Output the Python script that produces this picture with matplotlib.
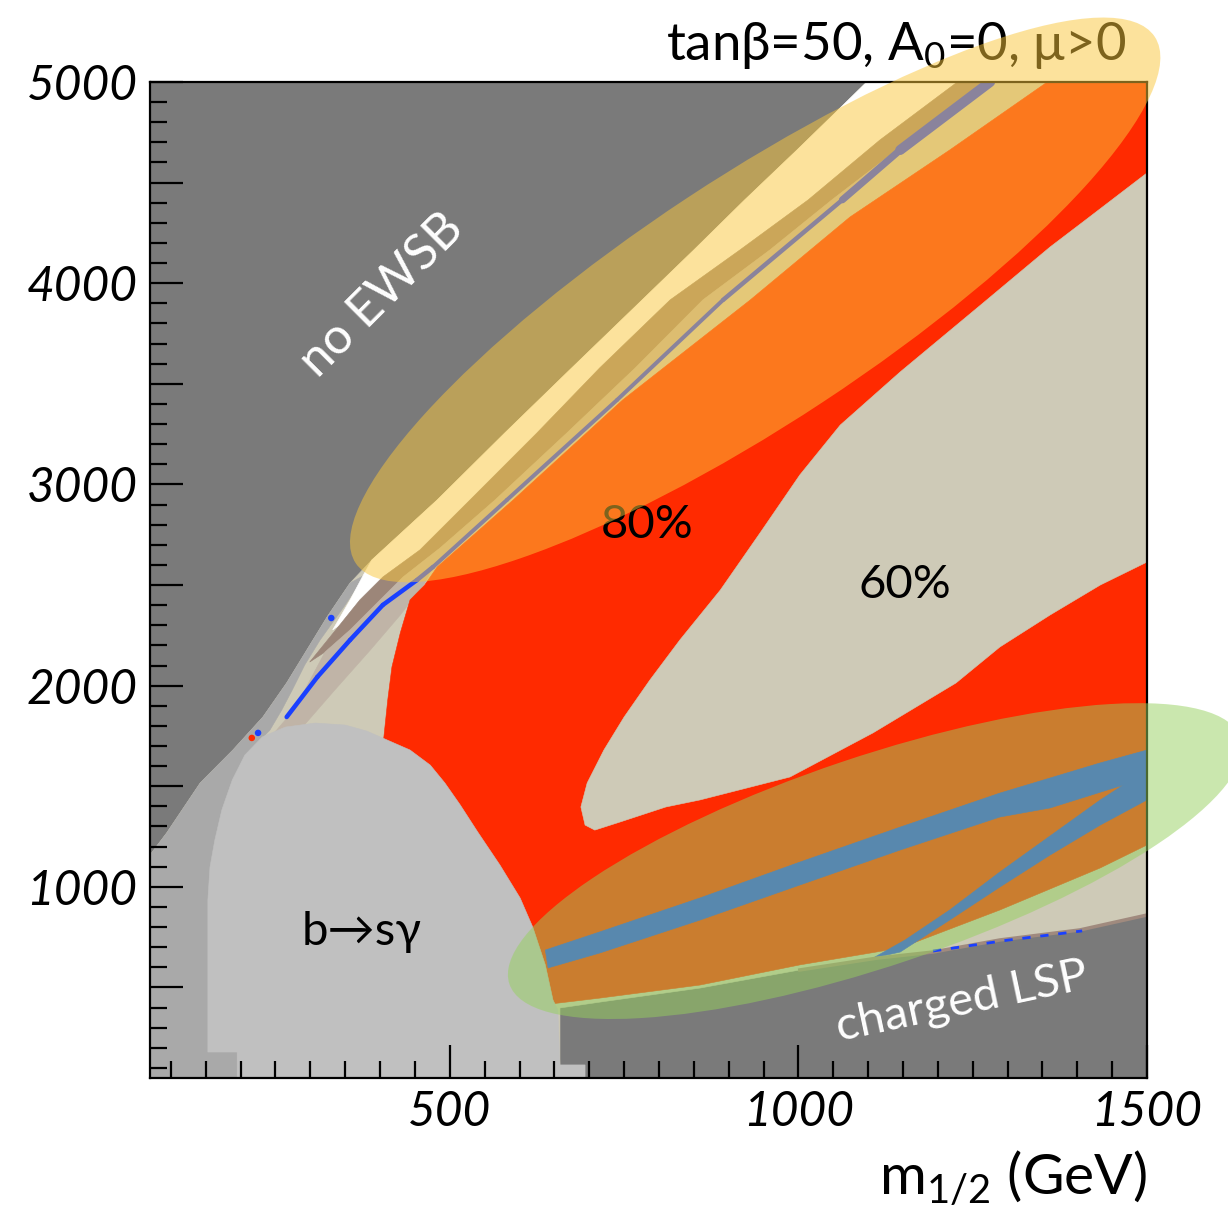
import matplotlib
matplotlib.use("Agg")
import matplotlib.pyplot as plt
from matplotlib.patches import Ellipse
from matplotlib.collections import LineCollection
from matplotlib.ticker import MultipleLocator

plt.rcParams['font.family'] = ['Lato', 'DejaVu Sans']
plt.rcParams['mathtext.fontset'] = 'custom'
plt.rcParams['mathtext.rm'] = 'Lato'

# --- region outlines, (m_1/2, m_0) in GeV ---
ewsb_x = [70, 94, 142, 189, 232, 266, 295, 324, 357, 388, 482, 579, 672, 776, 850, 923, 998, 1057, 1098]
ewsb_y = [1158, 1268, 1516, 1680, 1844, 2013, 2177, 2341, 2510, 2624, 2923, 3256, 3569, 3917, 4165, 4414, 4662, 4861, 5000]

lsp_x = [1500, 1404, 1289, 1193, 1113, 1002, 859, 715, 658]
lsp_y = [860, 786, 736, 676, 646, 587, 497, 427, 398]

midgray_x = [378, 350, 314, 292, 274, 259, 242, 221, 199, 185, 173, 159, 153, 153, 195, 195]
midgray_y = [2550, 2401, 2227, 2103, 1978, 1879, 1779, 1705, 1581, 1432, 1268, 1133, 935, 179, 179, 50]

white_x = [1098, 1057, 998, 923, 850, 776, 672, 579, 482, 388, 376, 357, 332,
           342, 371, 404, 457, 529, 625, 715, 816, 916, 1014, 1117, 1228]
white_y = [5000, 4861, 4662, 4414, 4165, 3917, 3569, 3256, 2923, 2624, 2550, 2426, 2277,
           2301, 2426, 2540, 2674, 2923, 3256, 3579, 3917, 4165, 4414, 4712, 5000]

brown_x = [1228, 1117, 1014, 916, 816, 715, 625, 529, 457, 404, 371, 342, 299,
           321, 357, 400, 433, 486, 565, 668, 766, 863, 959, 1048, 1160, 1265]
brown_y = [5000, 4712, 4414, 4165, 3917, 3579, 3256, 2923, 2674, 2540, 2426, 2301, 2117,
           2167, 2277, 2426, 2540, 2684, 2923, 3256, 3579, 3917, 4165, 4414, 4712, 5000]

taupe_x = [1265, 1160, 1048, 959, 863, 766, 668, 565, 486, 433, 400, 357, 321,
           292, 264, 242, 285, 335, 386, 429, 464, 476, 582, 740, 892, 1063, 1146, 1275]
taupe_y = [5000, 4712, 4414, 4165, 3917, 3579, 3256, 2923, 2684, 2540, 2426, 2277, 2167,
           1978, 1829, 1740, 1779, 1978, 2177, 2351, 2510, 2590, 2923, 3420, 3917, 4414, 4662, 5000]

coann_x = [1275, 1146, 1063, 892, 740, 582, 476, 453, 404, 357, 310, 266]
coann_y = [5000, 4662, 4414, 3917, 3420, 2923, 2590, 2525, 2401, 2227, 2043, 1844]
coann_w = [10, 7, 4.5, 4, 4, 4, 4.5, 4.5, 4.5, 4.5, 4.5]

red_x = [1357, 1217, 1074, 931, 748, 591, 482, 464, 443, 429, 417, 411, 405,
         467, 488, 510, 535, 567, 596, 614, 632, 643, 650,
         715, 859, 1002, 1146, 1289, 1433, 1500, 1500]
red_y = [5000, 4662, 4329, 3917, 3420, 2923, 2590, 2500, 2426, 2262, 2093, 1929, 1730,
         1605, 1516, 1407, 1273, 1108, 944, 800, 612, 438, 420,
         447, 512, 612, 696, 885, 1094, 1208, 5000]

tongue_x = [1500, 1408, 1361, 1265, 1146, 1060, 1002, 945, 888, 830, 787, 750, 721, 697, 688, 694, 708,
            744, 810, 859, 988, 1107, 1226, 1289, 1361, 1433, 1500]
tongue_y = [4548, 4304, 4180, 3902, 3559, 3295, 3047, 2759, 2475, 2227, 2028, 1844, 1680, 1516, 1397, 1307, 1282,
            1322, 1397, 1432, 1546, 1765, 2013, 2192, 2351, 2500, 2614]

band_x = [637, 715, 859, 1002, 1146, 1289, 1433, 1500,
          1500, 1433, 1361, 1289, 1217, 1146, 1107,
          1153, 1217, 1289, 1361, 1433, 1466,
          1361, 1289, 1146, 1002, 859, 715, 641]
band_y = [686, 776, 945, 1123, 1297, 1466, 1616, 1680,
          1432, 1307, 1158, 999, 835, 676, 646,
          736, 885, 1074, 1253, 1432, 1506,
          1392, 1347, 1183, 1009, 835, 671, 597]

bsg_x = [195, 195, 153, 153, 156, 163, 173, 188, 206, 231, 264, 307, 350, 381, 410,
         443, 472, 493, 515, 540, 572, 601, 619, 637, 648, 655, 658, 694, 694]
bsg_y = [50, 179, 179, 935, 1098, 1233, 1382, 1531, 1655, 1745, 1794, 1814, 1804, 1774, 1730,
         1680, 1605, 1516, 1407, 1273, 1108, 944, 800, 612, 438, 388, 115, 115, 50]

dash_x = [1193, 1300, 1407]
dash_y = [681, 735, 781]

dots_x = [225, 216, 330]
dots_y = [1765, 1740, 2336]
dots_c = ['#1a40ff', '#ff2a00', '#1a40ff']

# highlight ellipses: centre (GeV), width/height as axes fraction, angle (deg)
yellow_ell = (938, 3917, 0.960, 0.246, 33.4)
green_ell = (1110, 1128, 0.774, 0.210, 18.6)

xtick_vals = [500, 1000, 1500]
xtick_labels = ['500', '1000', '1500']
ytick_vals = [500, 1000, 1500, 2000, 2500, 3000, 3500, 4000, 4500, 5000]
ytick_labels = ['', '1000', '', '2000', '', '3000', '', '4000', '', '5000']

fig = plt.figure(figsize=(12.28, 12.07), dpi=100)
ax = fig.add_axes([0.12215, 0.10688, 0.8119, 0.8252])
ax.set_xlim(70, 1500)
ax.set_ylim(50, 5000)
ax.set_facecolor('#7a7a7a')


def region(xs, ys, col):
    ax.fill(xs, ys, facecolor=col, edgecolor=col, lw=0.4, zorder=1)


allowed_x = ewsb_x + [1500] + lsp_x + [658, 70]
allowed_y = ewsb_y + [5000] + lsp_y + [50, 50]
region(allowed_x, allowed_y, '#cecab7')
region([70] + ewsb_x[:9] + midgray_x, [50] + ewsb_y[:9] + midgray_y, '#a9a9a9')
region(white_x, white_y, '#ffffff')
region(brown_x, brown_y, '#9c8679')
region(taupe_x, taupe_y, '#c0b4a7')
region(red_x, red_y, '#ff2a00')
region(tongue_x, tongue_y, '#cecab7')
region(band_x, band_y, '#1a40ff')
region(bsg_x, bsg_y, '#c0c0c0')

segs = [[(coann_x[i], coann_y[i]), (coann_x[i + 1], coann_y[i + 1])] for i in range(len(coann_x) - 1)]
ax.add_collection(LineCollection(segs, colors='#1a40ff', linewidths=[w * 0.72 for w in coann_w],
                                 capstyle='round', zorder=1.5))
ax.plot(lsp_x[:6], lsp_y[:6], color='#a08a7e', lw=2.5, zorder=1.4)
ax.plot(dash_x, dash_y, color='#1a40ff', lw=2, ls=(0, (3, 3.5)), zorder=1.6)
ax.scatter(dots_x, dots_y, s=22, c=dots_c, lw=0, zorder=1.6)

# labels inside the plane
ax.text(783, 2798, '80%', fontsize=34, ha='center', va='center', zorder=3)
ax.text(1153, 2500, '60%', fontsize=34, ha='center', va='center', zorder=3)
ax.text(374, 776, 'b→sγ', fontsize=34, ha='center', va='center', zorder=3)
ax.text(403, 3941, 'no EWSB', fontsize=36, color='white', rotation=45,
        ha='center', va='center', rotation_mode='anchor', zorder=6)
ax.text(1235, 428, 'charged LSP', fontsize=34, color='white', rotation=12,
        ha='center', va='center', rotation_mode='anchor', zorder=6)
ax.text(0.7485, 1.037, r'tanβ=50, A$_{\mathregular{0}}$=0, μ>0', fontsize=38,
        transform=ax.transAxes, ha='center', va='center', clip_on=False, zorder=3)

for cx, cy, w, h, ang, col in [yellow_ell + ('#fac73b',), green_ell + ('#96d15e',)]:
    pos = ax.transLimits.transform((cx, cy))
    ax.add_patch(Ellipse(pos, w, h, angle=ang, transform=ax.transAxes, facecolor=col,
                         edgecolor='none', alpha=0.5, clip_on=False, zorder=5))

ax.set_xticks(xtick_vals)
ax.set_xticklabels(xtick_labels, fontsize=34.5, fontstyle='italic')
ax.set_yticks(ytick_vals)
ax.set_yticklabels(ytick_labels, fontsize=34.5, fontstyle='italic')
ax.xaxis.set_minor_locator(MultipleLocator(50))
ax.yaxis.set_minor_locator(MultipleLocator(100))
ax.tick_params(which='both', direction='in', top=False, right=False, color='black')
ax.tick_params(which='major', length=23.5, width=1.6, pad=9)
ax.tick_params(which='minor', length=12, width=1.6)
for sp in ax.spines.values():
    sp.set_linewidth(1.6)
ax.set_xlabel(r'm$_{\mathregular{1/2}}$ (GeV)', fontsize=41, loc='right', labelpad=10)

fig.savefig('out.png', dpi=100)
